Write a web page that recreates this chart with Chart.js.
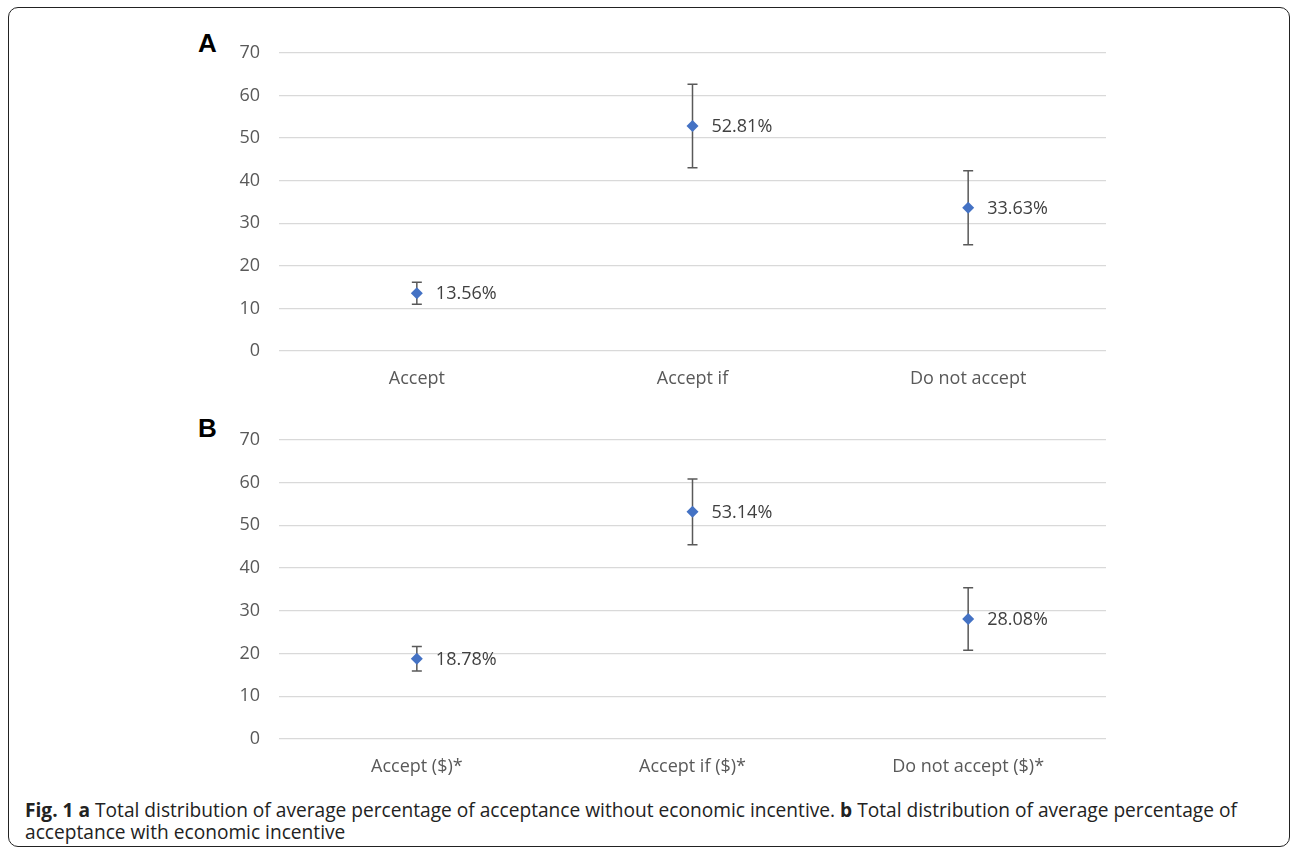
<!DOCTYPE html>
<html>
<head>
<meta charset="utf-8">
<script src="https://cdn.jsdelivr.net/npm/chart.js@4"></script>
<style>
  body { margin: 0; background: #fff; width: 1293px; height: 848px; overflow: hidden; position: relative; font-family: "Open Sans", sans-serif; }
  .frame { position: absolute; left: 8px; top: 7px; width: 1280px; height: 838px; border: 1.5px solid #222; border-radius: 10px; }
  .panel { position: absolute; left: 180px; width: 932px; }
  .tag { position: absolute; left: 198px; font: bold 26px "Liberation Sans", Arial, sans-serif; line-height: 26px; color: #000; }
  .caption { position: absolute; left: 25px; top: 799px; font-size: 19.15px; line-height: 22px; color: #222; white-space: nowrap; }
</style>
</head>
<body>
<div class="frame"></div>
<div class="tag" style="top:30px">A</div>
<div class="tag" style="top:415px">B</div>
<div class="panel" style="top:23px;height:377px"><canvas id="chartA"></canvas></div>
<div class="panel" style="top:410px;height:378px"><canvas id="chartB"></canvas></div>
<div class="caption"><b>Fig. 1 a</b> Total distribution of average percentage of acceptance without economic incentive. <b>b</b> Total distribution of average percentage of<br>acceptance with economic incentive</div>
<script>
const categoriesA = ['Accept', 'Accept if', 'Do not accept'];
const valuesA = [13.56, 52.81, 33.63];
const errorsA = [2.6, 9.8, 8.7];

const categoriesB = ['Accept ($)*', 'Accept if ($)*', 'Do not accept ($)*'];
const valuesB = [18.78, 53.14, 28.08];
const errorsB = [2.85, 7.7, 7.3];

const yTicks = [0, 10, 20, 30, 40, 50, 60, 70];

const labelFont = '18px "Open Sans", sans-serif';

// error bars under the markers, value labels to the right
const errorBars = {
  id: 'errorBars',
  beforeDatasetsDraw(chart, args, opts) {
    const ctx = chart.ctx;
    const y = chart.scales.y;
    const meta = chart.getDatasetMeta(0);
    ctx.save();
    ctx.strokeStyle = '#595959';
    ctx.lineWidth = 1.5;
    meta.data.forEach((pt, i) => {
      const v = chart.data.datasets[0].data[i];
      const top = y.getPixelForValue(v + opts.errors[i]);
      const bot = y.getPixelForValue(v - opts.errors[i]);
      ctx.beginPath();
      ctx.moveTo(pt.x, top); ctx.lineTo(pt.x, bot);
      ctx.moveTo(pt.x - 5, top); ctx.lineTo(pt.x + 5, top);
      ctx.moveTo(pt.x - 5, bot); ctx.lineTo(pt.x + 5, bot);
      ctx.stroke();
    });
    ctx.restore();
  },
  afterDatasetsDraw(chart) {
    const ctx = chart.ctx;
    const meta = chart.getDatasetMeta(0);
    ctx.save();
    ctx.font = labelFont;
    ctx.fillStyle = '#404040';
    ctx.textAlign = 'left';
    ctx.textBaseline = 'middle';
    meta.data.forEach((pt, i) => {
      ctx.fillText(chart.data.datasets[0].data[i].toFixed(2) + '%', pt.x + 19, pt.y + 1);
    });
    ctx.restore();
  }
};

function makeChart(id, labels, values, errors) {
  return new Chart(document.getElementById(id), {
    type: 'line',
    data: {
      labels: labels,
      datasets: [{
        data: values,
        showLine: false,
        pointStyle: 'rectRot',
        pointRadius: 6,
        pointBackgroundColor: '#4472C4',
        pointBorderColor: '#4472C4',
        pointBorderWidth: 0
      }]
    },
    options: {
      responsive: true,
      maintainAspectRatio: false,
      animation: false,
      layout: { padding: { top: 21, left: 0, right: 0, bottom: 0 } },
      plugins: {
        legend: { display: false },
        tooltip: { enabled: false },
        errorBars: { errors: errors }
      },
      scales: {
        x: {
          offset: true,
          grid: { display: false },
          border: { display: false },
          ticks: { color: '#595959', font: { family: 'Open Sans', size: 18 }, padding: 9, maxRotation: 0 },
          afterFit(s) { s.height = 49; }
        },
        y: {
          min: 0,
          max: 70,
          grid: { color: '#d9d9d9', lineWidth: 1.3, drawTicks: false },
          border: { display: false },
          afterBuildTicks(s) { s.ticks = yTicks.map(v => ({ value: v })); },
          ticks: { color: '#595959', font: { family: 'Open Sans', size: 18 }, padding: 19 },
          afterFit(s) { s.width = 99; }
        }
      }
    },
    plugins: [errorBars]
  });
}

makeChart('chartA', categoriesA, valuesA, errorsA);
makeChart('chartB', categoriesB, valuesB, errorsB);
</script>
</body>
</html>
